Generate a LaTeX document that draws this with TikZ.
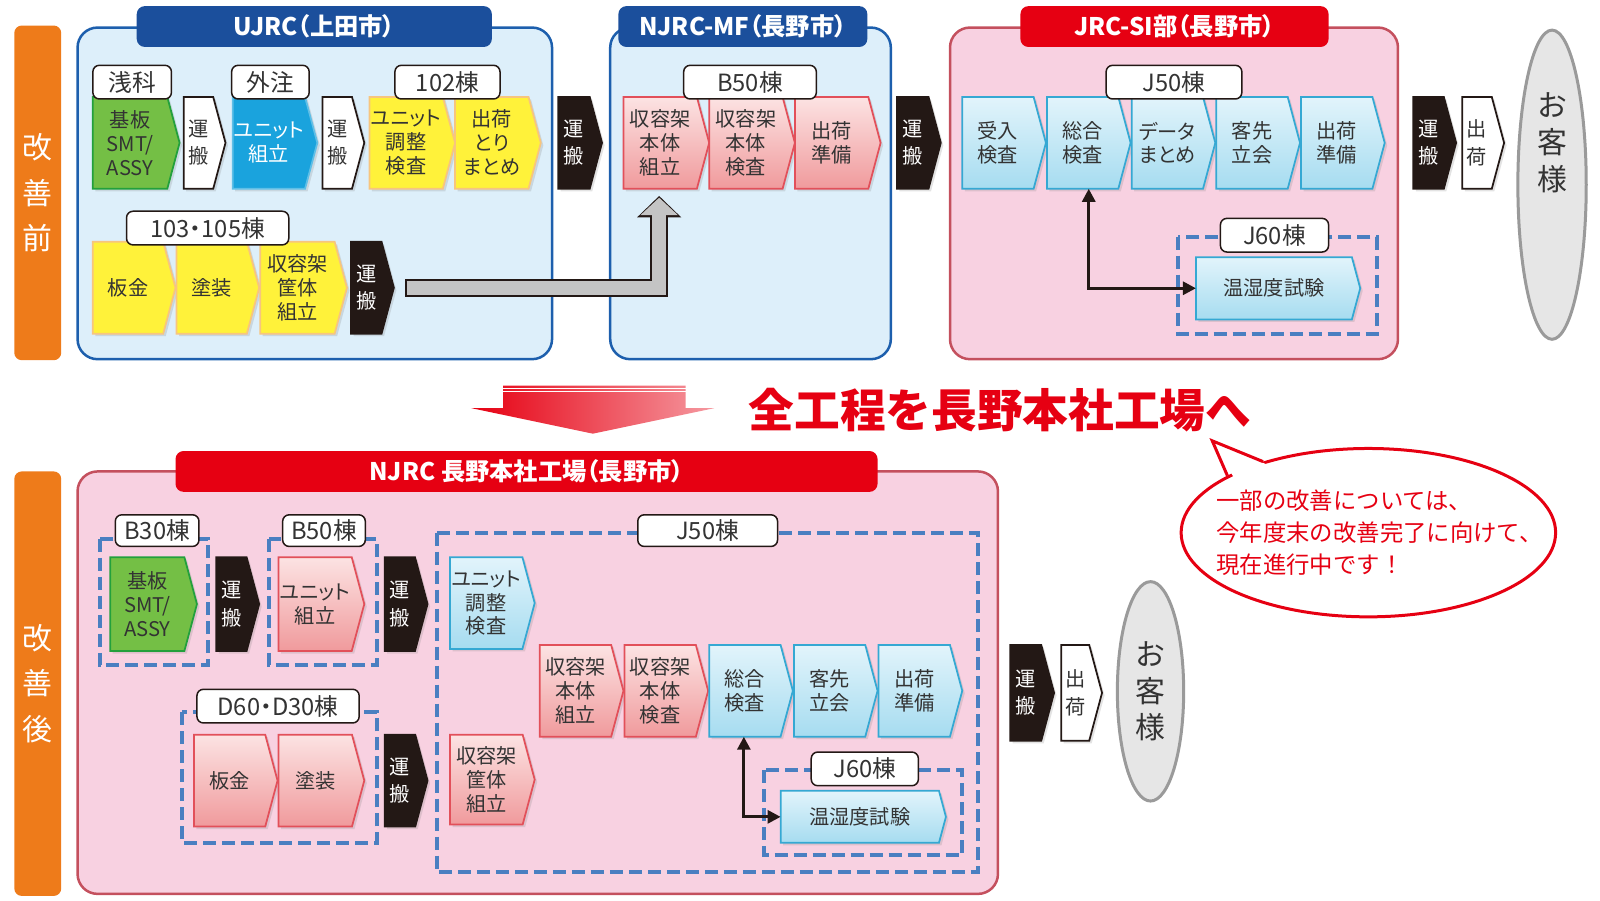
\documentclass[tikz,border=0pt]{standalone}
\usepackage{fontspec}
\setmainfont{Noto Sans CJK JP}
\newfontfamily\propfont{Noto Sans CJK JP}[RawFeature=+palt]
\usepackage{tikz}
\usetikzlibrary{arrows.meta,positioning,shapes.geometric,shapes.symbols,calc,shadows}
\usepackage{xcolor}
\definecolor{kzOrange}{HTML}{EE7B1A}
\definecolor{kzNavy}{HTML}{1B4F9C}
\definecolor{kzNavyLine}{HTML}{1D5FAD}
\definecolor{kzSky}{HTML}{DDEFFA}
\definecolor{kzRed}{HTML}{E60012}
\definecolor{kzPink}{HTML}{F8D1E1}
\definecolor{kzPinkLine}{HTML}{C4505E}
\definecolor{kzDash}{HTML}{4A7FC1}
\definecolor{kzYellow}{HTML}{FFF23A}
\definecolor{kzYellowLine}{HTML}{F7C57E}
\definecolor{kzGreen}{HTML}{74BF45}
\definecolor{kzGreenLine}{HTML}{23A03C}
\definecolor{kzBlue}{HTML}{1AA3DD}
\definecolor{kzRoseTop}{HTML}{FCE3E3}
\definecolor{kzRoseBot}{HTML}{F09A9C}
\definecolor{kzRoseLine}{HTML}{E2505A}
\definecolor{kzIceTop}{HTML}{E2F4FB}
\definecolor{kzIceBot}{HTML}{A6DCF0}
\definecolor{kzIceLine}{HTML}{35A8D3}
\definecolor{kzInk}{HTML}{231815}
\definecolor{kzText}{HTML}{333333}
\definecolor{kzGrey}{HTML}{E6E6E6}
\definecolor{kzGreyLine}{HTML}{9A9A9A}
\definecolor{kzSteel}{HTML}{C4C4C4}

% one pixel of the drawing
\newdimen\pxu
\pxu=0.20408mm

\tikzset{
    % process steps (arrow shaped)
    stepbase/.style={signal,signal to=east,signal pointer angle=150,anchor=west,minimum width=84\pxu,minimum height=90\pxu,inner sep=0pt,outer sep=0pt,align=center,line width=0.35mm,text=kzText,font=\propfont\fontsize{11.5}{13.6}\selectfont,drop shadow={opacity=0.22,shadow xshift=0.5mm,shadow yshift=-0.5mm}},
    yellowstep/.style={stepbase,fill=kzYellow,draw=kzYellowLine},
    greenstep/.style={stepbase,fill=kzGreen,draw=kzGreenLine},
    bluestep/.style={stepbase,fill=kzBlue,draw=kzBlue!70!white,text=white},
    rosestep/.style={stepbase,top color=kzRoseTop,bottom color=kzRoseBot,draw=kzRoseLine},
    icestep/.style={stepbase,top color=kzIceTop,bottom color=kzIceBot,draw=kzIceLine},
    haulbox/.style={stepbase,minimum width=42\pxu,fill=kzInk,draw=kzInk,text=white,font=\propfont\fontsize{11.5}{15.6}\selectfont},
    shipbox/.style={stepbase,minimum width=41\pxu,fill=white,draw=kzInk,text=kzText,font=\propfont\fontsize{11.5}{15.6}\selectfont},
    % labels and frames
    tag/.style={rectangle,rounded corners=1.3mm,draw=kzInk,fill=white,line width=0.3mm,minimum height=33\pxu,inner sep=0pt,text=kzText,font=\propfont\fontsize{13.5}{14}\selectfont},
    navytab/.style={rectangle,rounded corners=1.6mm,fill=kzNavy,minimum height=40\pxu,inner sep=0pt,text=white,font=\propfont\bfseries\fontsize{13.8}{14}\selectfont},
    redtab/.style={navytab,fill=kzRed},
    sidebar/.style={rectangle,rounded corners=1.5mm,fill=kzOrange,minimum width=46\pxu,inner sep=0pt,align=center,text=white,font=\fontsize{17}{26}\selectfont},
    siteblue/.style={draw=kzNavyLine,fill=kzSky,line width=0.5mm,rounded corners=4mm},
    sitepink/.style={draw=kzPinkLine,fill=kzPink,line width=0.5mm,rounded corners=4mm},
    bldash/.style={draw=kzDash,line width=0.8mm,dash pattern=on 2.6mm off 1.2mm},
    customer/.style={ellipse,draw=kzGreyLine,fill=kzGrey,line width=0.6mm,inner sep=0pt},
    custtext/.style={align=center,text=kzText,font=\fontsize{17}{21}\selectfont},
    twoway/.style={line width=0.6mm,kzInk,{Triangle[length=2.6mm,width=2.6mm]}-{Triangle[length=2.6mm,width=2.6mm]}},
    bubble/.style={ellipse,draw=kzRed,fill=white,line width=0.6mm,inner sep=0pt}
}

\begin{document}
\begin{tikzpicture}[x=0.20408mm,y=-0.20408mm]
    \useasboundingbox (0,0) rectangle (1568,882);

    % Before: side bar and sites
    \node[sidebar,minimum height=328\pxu] (before) at (37,189) {改\\善\\前};
    \draw[siteblue] (76,27) rectangle (541,352);
    \draw[siteblue] (598,27) rectangle (873,352);
    \draw[sitepink] (931,27) rectangle (1370,352);
    \node[navytab,minimum width=348\pxu] (ujrc) at (308,26) {UJRC（上田市）};
    \node[navytab,minimum width=244\pxu] (njrcmf) at (728,26) {NJRC-MF（長野市）};
    \node[redtab,minimum width=302\pxu] (jrcsi) at (1151,26) {JRC-SI部（長野市）};

    % UJRC
    \node[greenstep,minimum width=85\pxu] (smt) at (91,140) {基板\\SMT/\\ASSY};
    \node[shipbox] (haulA) at (180,140) {運\\搬};
    \node[bluestep,minimum width=83\pxu] (unitA) at (228,140) {ユニット\\組立};
    \node[shipbox] (haulB) at (316,140) {運\\搬};
    \node[yellowstep] (adjust) at (362,140) {ユニット\\調整\\検査};
    \node[yellowstep,right=0pt of adjust] (collect) {出荷\\とり\\まとめ};
    \node[yellowstep,minimum width=81\pxu] (sheet) at (91,282) {板金};
    \node[yellowstep,minimum width=81\pxu,right=1\pxu of sheet] (paint) {塗装};
    \node[yellowstep,minimum width=85\pxu,right=1\pxu of paint] (caseA) {収容架\\筐体\\組立};
    \node[haulbox,right=4\pxu of caseA] (haulC) {運\\搬};
    \node[tag,minimum width=77\pxu] (asashina) at (129.5,80.5) {浅科};
    \node[tag,minimum width=76\pxu] (outsrc) at (265,80.5) {外注};
    \node[tag,minimum width=103\pxu] (b102) at (438.5,80.5) {102棟};
    \node[tag,minimum width=159\pxu] (b103) at (203.5,223.5) {103・105棟};

    % NJRC-MF
    \node[haulbox,minimum width=43\pxu] (haulD) at (547,140) {運\\搬};
    \node[rosestep] (rackA) at (611,140) {収容架\\本体\\組立};
    \node[rosestep,right=0pt of rackA] (rackB) {収容架\\本体\\検査};
    \node[rosestep,right=0pt of rackB] (prepA) {出荷\\準備};
    \node[haulbox,minimum width=43\pxu] (haulE) at (879,140) {運\\搬};
    \node[tag,minimum width=130\pxu] (b50) at (735,80.5) {B50棟};

    % gray transfer arrow
    \draw[line width=3.5mm,kzInk,-{Triangle[width=8.6mm,length=4.3mm]}] ($(haulC.east)+(11,0)$) -| ($(rackA.south)+(-1,7)$);
    \draw[line width=2.85mm,kzSteel,-{Triangle[width=7.3mm,length=3.5mm]},shorten >=0.35mm,shorten <=0.3mm] ($(haulC.east)+(11,0)$) -| ($(rackA.south)+(-1,7)$);

    % JRC-SI
    \node[icestep,minimum width=82\pxu] (recv) at (943,140) {受入\\検査};
    \node[icestep,minimum width=82\pxu,right=1\pxu of recv] (totalA) {総合\\検査};
    \node[icestep,minimum width=82\pxu,right=1\pxu of totalA] (data) {データ\\まとめ};
    \node[icestep,minimum width=82\pxu,right=1\pxu of data] (witnessA) {客先\\立会};
    \node[icestep,minimum width=82\pxu,right=1\pxu of witnessA] (prepB) {出荷\\準備};
    \node[tag,minimum width=133\pxu] (j50A) at (1150.5,80.5) {J50棟};
    \draw[bldash] (1154,232) rectangle (1349,327);
    \node[tag,minimum width=106\pxu] (j60A) at (1249,230.5) {J60棟};
    \node[icestep,minimum width=161\pxu,minimum height=61\pxu] (humA) at (1172,282.5) {温湿度試験};
    \draw[twoway] ([xshift=6\pxu]totalA.south) |- (humA.west);

    % shipping, customer
    \node[haulbox] (haulF) at (1385,140) {運\\搬};
    \node[shipbox,right=6\pxu of haulF] (shipA) {出\\荷};
    \node[customer,minimum width=67\pxu,minimum height=303\pxu] (custA) at (1521,181) {};
    \node[custtext] (custAtxt) at (1521,140) {お\\客\\様};

    % Transition arrow and headline
    \shade[left color=kzRed,right color=kzRed!40] (493,378) -- (672,378) -- (672,400) -- (700,400) -- (581,425) -- (462,400) -- (493,400) -- cycle;
    \draw[white,line width=0.25mm] (493,380.5) -- (672,380.5);
    \draw[white,line width=0.25mm] (493,383.5) -- (672,383.5);
    \node[text=kzRed,font=\bfseries\fontsize{26}{28}\selectfont] (motto) at (980,402) {全工程を長野本社工場へ};

    % speech bubble
    \node[bubble,minimum width=367\pxu,minimum height=165\pxu] (note) at (1341,522) {};
    \coordinate (tip) at (1188,432);
    \fill[white] ($(note.158)!0.05!(note.center)$) -- (tip) -- ($(note.146)!0.05!(note.center)$) -- cycle;
    \draw[kzRed,line width=0.6mm] (note.158) -- (tip) -- (note.146);
    \node[anchor=west,align=left,text=kzRed,font=\fontsize{13.3}{18.3}\selectfont] (notetxt) at (1186,522) {一部の改善については、\\今年度末の改善完了に向けて、\\現在進行中です！};

    % After: NJRC head factory
    \node[sidebar,minimum height=416\pxu] (after) at (37,670) {改\\善\\後};
    \draw[sitepink] (76,462) rectangle (978,876);
    \node[redtab,minimum width=688\pxu] (njrc) at (516,462) {NJRC 長野本社工場（長野市）};

    \draw[bldash] (98,528) rectangle (204,652);
    \draw[bldash] (264,528) rectangle (369,652);
    \draw[bldash] (178,698) rectangle (369,826);
    \draw[bldash] (428,522) rectangle (958,855);
    \draw[bldash] (749,755) rectangle (943,838);

    \node[greenstep,minimum width=85\pxu,minimum height=92\pxu] (smtB) at (108,592) {基板\\SMT/\\ASSY};
    \node[haulbox,minimum height=92\pxu] (haulG) at (212,592) {運\\搬};
    \node[rosestep,minimum height=92\pxu] (unitB) at (273,592) {ユニット\\組立};
    \node[haulbox,minimum height=92\pxu] (haulH) at (377,592) {運\\搬};
    \node[rosestep,minimum width=82\pxu] (sheetB) at (190,765) {板金};
    \node[rosestep,right=1\pxu of sheetB] (paintB) {塗装};
    \node[haulbox] (haulI) at (377,765) {運\\搬};
    \node[icestep,minimum width=83\pxu] (adjustB) at (441,591) {ユニット\\調整\\検査};
    \node[rosestep,minimum width=83\pxu,minimum height=88\pxu] (caseB) at (441,764) {収容架\\筐体\\組立};
    \node[rosestep,minimum width=82\pxu] (rackC) at (529,677) {収容架\\本体\\組立};
    \node[rosestep,minimum width=82\pxu,right=1\pxu of rackC] (rackD) {収容架\\本体\\検査};
    \node[icestep,minimum width=82\pxu,right=1\pxu of rackD] (totalB) {総合\\検査};
    \node[icestep,minimum width=82\pxu,right=1\pxu of totalB] (witnessB) {客先\\立会};
    \node[icestep,minimum width=82\pxu,right=1\pxu of witnessB] (prepC) {出荷\\準備};
    \node[icestep,minimum width=162\pxu,minimum height=51\pxu] (humB) at (765,800.5) {温湿度試験};
    \draw[twoway] ([xshift=-1\pxu]totalB.south) |- (humB.west);

    \node[tag,minimum width=82\pxu,minimum height=31\pxu] (b30) at (154,520) {B30棟};
    \node[tag,minimum width=81\pxu,minimum height=31\pxu] (b50B) at (317.5,520) {B50棟};
    \node[tag,minimum width=159\pxu,minimum height=33\pxu] (d60) at (272.5,692) {D60・D30棟};
    \node[tag,minimum width=137\pxu,minimum height=31\pxu] (j50B) at (693.5,520) {J50棟};
    \node[tag,minimum width=105\pxu,minimum height=33\pxu] (j60B) at (847.5,753.5) {J60棟};

    % shipping, customer
    \node[haulbox,minimum width=43\pxu,minimum height=94\pxu] (haulJ) at (990,679) {運\\搬};
    \node[shipbox,minimum width=40\pxu,minimum height=94\pxu,right=7\pxu of haulJ] (shipB) {出\\荷};
    \node[customer,custtext,minimum width=65\pxu,minimum height=215\pxu] (custB) at (1127.5,677.5) {お\\客\\様};
\end{tikzpicture}
\end{document}
